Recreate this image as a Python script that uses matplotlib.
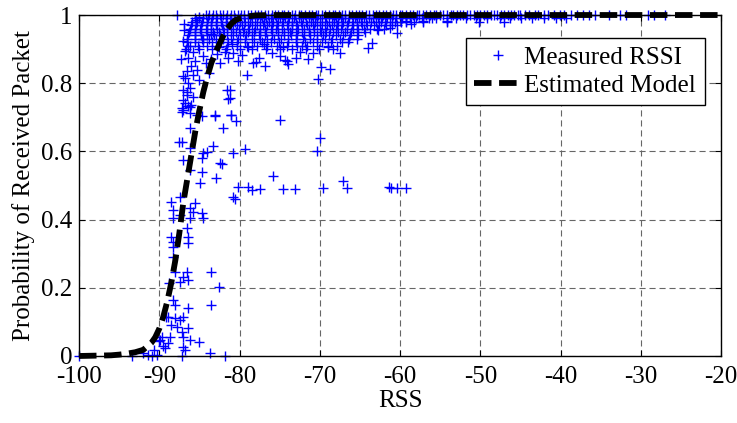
#!/usr/bin/env python3
"""Packet reception probability vs RSS: measured points and fitted model."""

import matplotlib
matplotlib.use("Agg")
import matplotlib.pyplot as plt

plt.rcParams["font.family"] = ["Liberation Serif", "DejaVu Serif"]
plt.rcParams["axes.unicode_minus"] = False

# fitted model curve
model_x = [-100, -98, -96, -95, -94, -93, -92, -91, -90.5, -90, -89.5, -89, -88.5,
           -88, -87.5, -87, -86.5, -86, -85.5, -85, -84.5, -84, -83.5, -83, -82.5,
           -82, -81.5, -81, -80.5, -80, -79, -78, -76, -70, -60, -50, -40, -30, -20]
model_y = [0.0, 0.001, 0.002, 0.004, 0.007, 0.011, 0.018, 0.038, 0.055, 0.08, 0.115,
           0.16, 0.215, 0.28, 0.36, 0.45, 0.52, 0.59, 0.66, 0.72, 0.775, 0.82, 0.86,
           0.89, 0.915, 0.94, 0.96, 0.975, 0.985, 0.99, 0.996, 0.999, 1.0, 1.0, 1.0,
           1.0, 1.0, 1.0, 1.0]

# dense band of measurements near probability 1, one x list per level
band_levels = [1.0, 0.99, 0.98, 0.97, 0.96, 0.95, 0.94, 0.93, 0.92, 0.91, 0.90]
band_rows = [
    [-87.8, -84.2, -83.8, -83.3, -82.9, -82.4, -82.0, -81.6, -81.1, -80.7, -80.2,
     -79.8, -79.4, -78.9, -78.6, -78.1, -77.7, -77.3, -76.8, -76.5, -76.0, -75.6,
     -75.2, -74.7, -74.4, -73.9, -73.5, -73.1, -72.6, -72.3, -71.8, -71.4, -71.0,
     -70.5, -70.2, -69.7, -69.3, -68.9, -68.4, -68.1, -67.6, -67.2, -66.8, -66.3,
     -66.0, -65.5, -65.1, -64.7, -64.2, -63.9, -63.4, -63.0, -62.6, -62.1, -61.8,
     -61.3, -60.9, -60.5, -60.0, -59.7, -59.2, -58.8, -58.4, -57.9, -57.6, -57.1,
     -56.7, -56.3, -55.8, -55.5, -55.0, -54.6, -54.2, -53.7, -53.4, -52.9, -52.5,
     -52.1, -51.6, -51.3, -50.8, -50.4, -50.0, -49.5, -49.2, -48.7, -48.3, -47.9,
     -47.4, -47.1, -46.6, -46.2, -45.8, -45.3, -45.0, -44.4, -43.9, -43.2, -42.8,
     -42.0, -41.5, -40.8, -40.1, -39.6, -38.7, -38.0, -37.2, -36.5, -35.7, -33.9,
     -32.6, -31.8, -29.1, -28.3, -27.0],
    [-85.6, -85.0, -84.5, -83.9, -83.4, -82.8, -82.3, -81.7, -81.2, -80.6, -80.0,
     -79.5, -78.9, -78.4, -77.8, -77.2, -76.7, -76.1, -75.5, -75.0, -74.3, -73.8,
     -73.2, -72.6, -72.1, -71.4, -70.9, -70.3, -69.7, -69.2, -68.5, -68.0, -67.4,
     -66.8, -66.3, -65.6, -65.1, -64.5, -63.9, -63.4, -62.7, -62.2, -61.6, -61.0,
     -60.5, -59.8, -59.3, -58.7, -58.0, -57.2, -56.4, -55.5, -54.2, -53.0, -51.8,
     -50.5, -49.1, -47.6, -46.3, -44.9, -43.5, -42.1, -40.6, -39.3],
    [-85.9, -85.3, -84.7, -84.1, -83.5, -82.9, -82.3, -81.7, -81.1, -80.5, -79.9,
     -79.3, -78.7, -78.1, -77.5, -76.9, -76.3, -75.8, -75.2, -74.6, -74.0, -73.5,
     -72.9, -72.3, -71.7, -71.1, -70.6, -70.0, -69.4, -68.8, -68.2, -67.7, -67.1,
     -66.5, -65.9, -65.3, -64.8, -64.2, -63.6, -63.0, -62.4, -61.9, -61.3, -60.6,
     -59.9, -59.2, -58.3, -57.1, -54.2, -50.2, -47.0],
    [-86.0, -85.4, -84.8, -84.1, -83.5, -82.9, -82.2, -81.6, -81.0, -80.3, -79.7,
     -79.0, -78.4, -77.8, -77.1, -76.6, -75.9, -75.3, -74.7, -74.1, -73.4, -72.8,
     -72.2, -71.6, -70.9, -70.4, -69.7, -69.1, -68.5, -67.9, -67.2, -66.6, -66.0,
     -65.4, -64.7, -64.1, -63.3, -62.6, -61.8, -61.0, -60.4],
    [-86.2, -85.5, -84.9, -84.2, -83.5, -82.8, -82.1, -81.5, -80.8, -80.1, -79.4,
     -78.8, -78.1, -77.4, -76.8, -76.1, -75.4, -74.7, -74.0, -73.4, -72.7, -72.0,
     -71.4, -70.7, -70.0, -69.3, -68.7, -68.0, -67.3, -66.6, -65.9, -65.2, -64.5,
     -63.7, -62.9, -62.0],
    [-86.3, -85.6, -84.8, -84.1, -83.3, -82.6, -81.9, -81.1, -80.4, -79.6, -78.9,
     -78.2, -77.4, -76.7, -75.9, -75.2, -74.4, -73.7, -72.9, -72.2, -71.4, -70.7,
     -69.9, -69.2, -68.4, -67.7, -66.9, -66.1, -65.3, -64.4],
    [-86.4, -85.6, -84.8, -84.0, -83.2, -82.4, -81.6, -80.8, -80.0, -79.2, -78.4,
     -77.6, -76.8, -76.0, -75.2, -74.4, -73.6, -72.8, -72.0, -71.2, -70.4, -69.6,
     -68.8, -68.0, -67.1, -66.2, -65.2],
    [-86.5, -85.6, -84.7, -83.8, -82.9, -82.0, -81.1, -80.2, -79.3, -78.4, -77.5,
     -76.6, -75.7, -74.8, -73.9, -73.0, -72.1, -71.2, -70.3, -69.4, -68.5, -67.5,
     -66.3],
    [-86.6, -85.5, -84.5, -83.4, -82.4, -81.4, -80.3, -79.3, -78.2, -77.2, -76.1,
     -75.1, -74.0, -73.0, -71.9, -70.8, -69.7, -68.6, -67.2],
    [-86.4, -85.2, -84.0, -82.8, -81.5, -80.3, -79.1, -77.8, -76.6, -75.3, -74.1,
     -72.8, -71.6, -70.3, -69.0, -67.8],
    [-86.7, -85.0, -83.4, -81.7, -80.0, -78.4, -76.7, -75.0, -73.4, -71.7, -70.1,
     -68.4],
]

# scattered measurements between 0.7 and 0.99
upper_pts = [
    (-86.2, 0.908), (-85.8, 0.893), (-86.4, 0.874), (-85.6, 0.864), (-86.0, 0.85),
    (-85.3, 0.84), (-86.6, 0.835), (-85.8, 0.825), (-86.8, 0.815), (-85.1, 0.81),
    (-86.2, 0.786), (-87.0, 0.781), (-86.6, 0.766), (-85.8, 0.761), (-86.8, 0.742),
    (-86.0, 0.737), (-87.0, 0.722), (-85.3, 0.708), (-84.7, 0.703), (-87.0, 0.82),
    (-86.4, 0.80), (-86.6, 0.775), (-87.0, 0.75), (-86.2, 0.73), (-87.2, 0.727),
    (-86.4, 0.732), (-84.5, 0.88), (-83.5, 0.87), (-82.8, 0.885), (-84.2, 0.86),
    (-82.4, 0.86), (-83.8, 0.83), (-81.4, 0.874), (-80.2, 0.864), (-79.7, 0.883),
    (-78.3, 0.859), (-77.9, 0.863), (-76.8, 0.85), (-79.1, 0.825), (-74.1, 0.864),
    (-73.9, 0.856), (-74.3, 0.868), (-81.2, 0.781), (-81.6, 0.78), (-81.2, 0.757),
    (-81.4, 0.755), (-83.1, 0.708), (-81.0, 0.708), (-81.8, 0.893), (-69.8, 0.848),
    (-68.7, 0.843), (-70.2, 0.811), (-63.5, 0.917), (-64.0, 0.903), (-72.5, 0.892),
    (-70.9, 0.889), (-67.5, 0.889), (-65.4, 0.931), (-60.4, 0.946), (-61.3, 0.962),
    (-59.2, 0.981), (-57.1, 0.981), (-54.2, 0.981), (-76.0, 0.89), (-75.0, 0.88),
    (-73.0, 0.875), (-71.5, 0.87), (-77.6, 0.875), (-80.8, 0.89),
    (-86.9, 0.955), (-87.1, 0.925), (-86.8, 0.895), (-87.3, 0.87), (-86.9, 0.975),
    (-85.0, 0.995), (-85.4, 0.985), (-84.6, 0.93), (-83.6, 0.945), (-82.6, 0.905),
    (-80.9, 0.915), (-79.0, 0.905), (-77.0, 0.915), (-74.6, 0.905), (-72.2, 0.91),
    (-69.0, 0.905), (-66.5, 0.92), (-62.8, 0.955), (-58.6, 0.975), (-56.0, 0.99),
]

# scattered measurements along the steep part and the floor
lower_pts = [
    (-87.2, 0.716), (-86.2, 0.713), (-83.1, 0.705), (-81.0, 0.707), (-80.4, 0.689),
    (-82.0, 0.67), (-86.2, 0.668), (-75.0, 0.692), (-87.6, 0.627), (-87.2, 0.627),
    (-83.3, 0.617), (-84.1, 0.599), (-84.5, 0.594), (-86.2, 0.609), (-80.8, 0.596),
    (-79.3, 0.606), (-70.0, 0.638), (-70.4, 0.601), (-87.0, 0.575), (-84.7, 0.58),
    (-82.4, 0.565), (-82.2, 0.563), (-86.2, 0.545), (-84.7, 0.54), (-82.9, 0.523),
    (-84.9, 0.508), (-75.8, 0.528), (-80.6, 0.46), (-80.8, 0.465), (-87.4, 0.467),
    (-88.5, 0.453), (-88.3, 0.428), (-88.3, 0.404), (-87.4, 0.413), (-86.2, 0.433),
    (-85.8, 0.423), (-85.6, 0.448), (-84.7, 0.418), (-84.5, 0.404), (-86.2, 0.404),
    (-86.6, 0.374), (-86.4, 0.35), (-88.5, 0.35), (-88.3, 0.32), (-88.3, 0.335),
    (-86.4, 0.33), (-88.3, 0.291), (-88.0, 0.247), (-86.6, 0.247), (-87.0, 0.233),
    (-86.4, 0.223), (-87.4, 0.218), (-88.8, 0.213), (-83.5, 0.245), (-82.6, 0.203),
    (-88.3, 0.164), (-88.0, 0.15), (-86.4, 0.14), (-83.5, 0.15), (-88.9, 0.115),
    (-88.0, 0.11), (-87.4, 0.106), (-87.0, 0.115), (-89.1, 0.115), (-88.5, 0.091),
    (-87.8, 0.086), (-86.4, 0.081), (-87.2, 0.071), (-87.0, 0.057), (-86.2, 0.047),
    (-85.1, 0.042), (-89.7, 0.057), (-88.7, 0.057), (-88.9, 0.037), (-89.3, 0.023),
    (-87.0, 0.027), (-86.8, 0.018), (-83.7, 0.008), (-81.8, 0.0), (-87.2, 0.0),
    (-90.7, 0.018), (-90.3, 0.003), (-91.4, 0.003), (-90.9, 0.0), (-93.4, 0.0),
    (-100.0, 0.0), (-92.0, 0.01), (-89.5, 0.03), (-90.0, 0.045), (-89.9, 0.047),
]

# the row of points sitting at probability 0.5
half_pts = [
    (-80.2, 0.497), (-78.9, 0.495), (-78.5, 0.487), (-77.5, 0.49), (-74.6, 0.49),
    (-73.1, 0.49), (-69.6, 0.494), (-67.1, 0.514), (-66.6, 0.492), (-61.4, 0.497),
    (-61.1, 0.492), (-60.4, 0.492), (-59.2, 0.494),
]


def main() -> int:
    meas_x, meas_y = [], []
    for level, row in zip(band_levels, band_rows):
        meas_x.extend(row)
        meas_y.extend([level] * len(row))
    for x, y in upper_pts + lower_pts + half_pts:
        meas_x.append(x)
        meas_y.append(y)

    fig = plt.figure(figsize=(7.37, 4.23), dpi=100)
    ax = fig.add_axes([0.1072, 0.1584, 0.8711, 0.8061])

    ax.plot(meas_x, meas_y, linestyle="none", marker="+", color="blue",
            markersize=6.8, markeredgewidth=1.0, clip_on=False, zorder=3,
            label="Measured RSSI")
    ax.plot(model_x, model_y, color="black", linewidth=4.2,
            linestyle=(0, (3.0, 1.3)), clip_on=False, zorder=4,
            label="Estimated Model")

    ax.set_xlim(-100, -20)
    ax.set_ylim(0, 1)
    ax.set_xticks(range(-100, -19, 10))
    ax.set_yticks([0, 0.2, 0.4, 0.6, 0.8, 1])
    ax.set_yticklabels(["0", "0.2", "0.4", "0.6", "0.8", "1"])
    ax.tick_params(direction="in", length=4, width=0.8, labelsize=18,
                   top=True, right=True)
    ax.tick_params(axis="x", pad=7)
    ax.tick_params(axis="y", pad=5)
    ax.grid(True, color="#666666", linewidth=0.8, linestyle=(0, (5.5, 3.5)))
    ax.set_axisbelow(True)
    for spine in ax.spines.values():
        spine.set_linewidth(1.0)
        spine.set_zorder(5)

    ax.set_xlabel("RSS", fontsize=18, labelpad=2)
    ax.set_ylabel("Probability of Received Packet", fontsize=18, labelpad=4)

    leg = ax.legend(loc="upper right", bbox_to_anchor=(0.975, 0.933),
                    fontsize=18, numpoints=1, handlelength=1.85,
                    handletextpad=0.15, borderpad=0.35, labelspacing=0.2,
                    borderaxespad=0.0, fancybox=False, framealpha=1)
    leg.get_frame().set_edgecolor("black")
    leg.get_frame().set_linewidth(1.0)
    leg.set_zorder(6)

    fig.savefig("out.png", dpi=100)
    plt.close(fig)
    return 0


if __name__ == "__main__":
    raise SystemExit(main())
